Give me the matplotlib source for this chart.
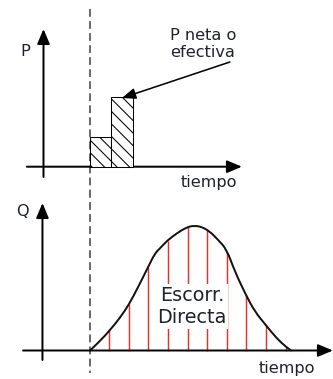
import matplotlib
matplotlib.use("Agg")
import matplotlib.pyplot as plt
from matplotlib.path import Path
from matplotlib.patches import PathPatch

# ---------------- data (schematic units) ----------------
bar_t = [0.0, 1.0]          # left edges of rainfall blocks
bar_w = [1.0, 1.0]
bar_p = [3.0, 7.0]          # net rainfall heights

curve_t = [0.03, 0.54, 1.05, 1.56, 2.02, 2.49, 3.0, 3.34, 3.60, 3.94, 4.45,
           4.96, 5.30, 5.72, 6.15, 6.57, 7.0, 7.42, 7.98, 8.44, 8.99, 9.55,
           10.01, 10.28]
curve_q = [0.0, 0.95, 2.05, 3.28, 4.62, 6.38, 8.38, 9.72, 10.22, 10.95, 11.72,
           12.32, 12.48, 12.38, 11.88, 11.05, 10.1, 7.88, 5.55, 3.88, 2.55, 1.22,
           0.38, 0.0]

red_t = [1, 2, 3, 4, 5, 6, 7, 8, 9, 10]
red_q = [2.05, 4.62, 8.38, 10.95, 12.38, 12.05, 9.9, 5.55, 2.55, 0.38]

label_p = "P"
label_q = "Q"
label_time = "tiempo"
label_net = ["P neta o", "efectiva"]
label_runoff = "Escorr.\nDirecta"

# ---------------- layout ----------------
W, H, DPI = 333, 379, 75
fig = plt.figure(figsize=(W / DPI, H / DPI), dpi=DPI)
plt.rcParams['font.family'] = ['DejaVu Sans']
TXT = "#1d232b"


def make_axes(y_top_px, y_bot_px, x0_px, y0_px, sx, sy):
    ax = fig.add_axes([0, 1 - y_bot_px / H, 1, (y_bot_px - y_top_px) / H])
    ax.set_xlim((0 - x0_px) / sx, (W - x0_px) / sx)
    ax.set_ylim((y0_px - y_bot_px) / sy, (y0_px - y_top_px) / sy)
    ax.axis("off")
    return ax


def arrow(ax, start, tip, lw=1.9):
    ax.annotate("", xy=tip, xytext=start,
                arrowprops=dict(arrowstyle="-|>,head_length=1.0,head_width=0.42",
                                mutation_scale=12, lw=lw, color="black",
                                shrinkA=0, shrinkB=0),
                annotation_clip=False)


def dashed(ax, y0, y1):
    ln, = ax.plot([0, 0], [y0, y1], color="#5a5a5a", lw=1.7, clip_on=False,
                  solid_capstyle="butt")
    ln.set_dashes((4.4, 2.4))


def smooth_path(xs, ys):
    # quadratic Bezier through midpoints, read points used as control points
    pts = list(zip(xs, ys))
    verts = [pts[0]]
    codes = [Path.MOVETO]
    for i in range(1, len(pts) - 1):
        mid = ((pts[i][0] + pts[i + 1][0]) / 2, (pts[i][1] + pts[i + 1][1]) / 2)
        if i == len(pts) - 2:
            mid = pts[-1]
        verts += [pts[i], mid]
        codes += [Path.CURVE3, Path.CURVE3]
    return Path(verts, codes)


# ---- top panel: rainfall ----
ax1 = make_axes(0, 190, 89.5, 166.7, 21.5, 10.0)
dashed(ax1, 15.8, -2.33)
arrow(ax1, (-2.14, -1.03), (-2.14, 13.77))
arrow(ax1, (-2.91, 0.0), (7.09, 0.0))
ax1.bar(bar_t, bar_p, width=bar_w, align="edge", color="white",
        edgecolor="black", lw=1.0, hatch="\\\\", zorder=3)
ax1.text(-3.0, 11.57, label_p, fontsize=15.5, color=TXT, ha="center", va="center")
ax1.text(5.53, -1.55, label_time, fontsize=15.5, color=TXT, ha="center", va="center")
ax1.text(3.75, 12.67, label_net[0], fontsize=15.5, color=TXT, ha="left", va="baseline")
ax1.text(3.75, 11.0, label_net[1], fontsize=15.5, color=TXT, ha="left", va="baseline")
ax1.annotate("", xy=(1.51, 6.87), xytext=(6.53, 10.47),
             arrowprops=dict(arrowstyle="-|>,head_length=1.0,head_width=0.4",
                             mutation_scale=11, lw=1.5, color="black",
                             shrinkA=0, shrinkB=0), zorder=5)

# ---- bottom panel: runoff hydrograph ----
ax2 = make_axes(190, 379, 89.5, 350.5, 19.6, 10.0)
dashed(ax2, 16.1, -2.2)
arrow(ax2, (-2.40, -0.95), (-2.40, 14.75))
arrow(ax2, (-3.39, 0.0), (12.42, 0.0))
ax2.vlines(red_t, 0, red_q, color="#e8312a", lw=1.4, zorder=2)
ax2.add_patch(PathPatch(smooth_path(curve_t, curve_q), fill=False,
                        edgecolor="#111111", lw=1.9, zorder=4,
                        joinstyle="round", capstyle="round"))
ax2.text(5.23, 4.4, label_runoff, fontsize=18.5, color=TXT, ha="center",
         va="center", linespacing=1.2, zorder=3,
         bbox=dict(facecolor="white", edgecolor="none", pad=1.5))
ax2.text(-3.44, 13.95, label_q, fontsize=15.5, color=TXT, ha="center", va="center")
ax2.text(10.05, -1.75, label_time, fontsize=15.5, color=TXT, ha="center", va="center")

fig.savefig("out.png", dpi=DPI, facecolor="white")
